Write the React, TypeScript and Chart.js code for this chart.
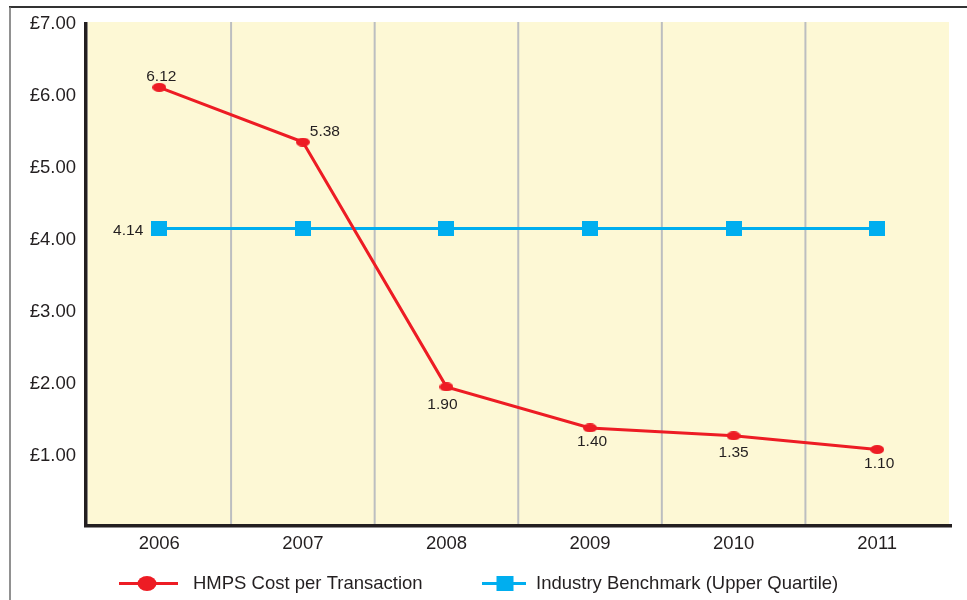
import React, { useEffect, useRef } from 'react';
import { Chart, registerables } from 'chart.js';

Chart.register(...registerables);

// ---- Data ----
const years = ['2006', '2007', '2008', '2009', '2010', '2011'];
const hmpsCost = [6.12, 5.36, 1.96, 1.39, 1.28, 1.09];
const hmpsLabels = ['6.12', '5.38', '1.90', '1.40', '1.35', '1.10'];
const benchmark = [4.16, 4.16, 4.16, 4.16, 4.16, 4.16];
const benchmarkLabels = ['4.14', '', '', '', '', ''];
const yTickValues = [1, 2, 3, 4, 5, 6, 7];
const seriesNames = ['HMPS Cost per Transaction', 'Industry Benchmark (Upper Quartile)'];

// ---- Styles ----
const RED = '#ED1C24';
const BLUE = '#00AEEF';
const BG = '#FDF8D5';
const GRID = '#BCBEC0';
const TEXT = '#231F20';
const FONT = '"Liberation Sans", Arial, Helvetica, sans-serif';

// label offsets (dx, dy, align) for each data label
const hmpsLabelOffsets: [number, number, CanvasTextAlign][] = [
  [2, -11, 'center'],
  [22, -10, 'center'],
  [-4, 18, 'center'],
  [2, 14, 'center'],
  [0, 17, 'center'],
  [2, 14, 'center'],
];
const benchLabelOffsets: [number, number, CanvasTextAlign][] = [
  [-16, 2, 'right'],
  [0, 0, 'center'],
  [0, 0, 'center'],
  [0, 0, 'center'],
  [0, 0, 'center'],
  [0, 0, 'center'],
];

function makeEllipse(w: number, h: number, color: string): HTMLCanvasElement {
  const c = document.createElement('canvas');
  c.width = w;
  c.height = h;
  const ctx = c.getContext('2d')!;
  ctx.fillStyle = color;
  ctx.beginPath();
  ctx.ellipse(w / 2, h / 2, w / 2, h / 2, 0, 0, Math.PI * 2);
  ctx.fill();
  return c;
}

function makeRect(w: number, h: number, color: string): HTMLCanvasElement {
  const c = document.createElement('canvas');
  c.width = w;
  c.height = h;
  const ctx = c.getContext('2d')!;
  ctx.fillStyle = color;
  ctx.fillRect(0, 0, w, h);
  return c;
}

export default function App() {
  const ref = useRef<HTMLCanvasElement | null>(null);

  useEffect(() => {
    if (!ref.current) return;
    const redPoint = makeEllipse(14, 9, RED);
    const bluePoint = makeRect(16, 15, BLUE);

    const decor = {
      id: 'decor',
      beforeDraw(chart: any) {
        const ctx = chart.ctx;
        const ca = chart.chartArea;
        const xs = chart.scales.x;
        ctx.save();
        ctx.fillStyle = '#ffffff';
        ctx.fillRect(0, 0, chart.width, chart.height);
        // outer frame
        ctx.strokeStyle = '#333333';
        ctx.lineWidth = 2;
        ctx.beginPath();
        ctx.moveTo(9, 7);
        ctx.lineTo(chart.width, 7);
        ctx.stroke();
        ctx.strokeStyle = '#6d6d6d';
        ctx.lineWidth = 1.5;
        ctx.beginPath();
        ctx.moveTo(10, 7);
        ctx.lineTo(10, chart.height);
        ctx.stroke();
        // plot background
        ctx.fillStyle = BG;
        ctx.fillRect(ca.left, 22, ca.right - ca.left, 525 - 22);
        // vertical grid at category boundaries
        ctx.strokeStyle = GRID;
        ctx.lineWidth = 2;
        for (let i = 0; i < years.length - 1; i++) {
          const x = (xs.getPixelForValue(i) + xs.getPixelForValue(i + 1)) / 2;
          ctx.beginPath();
          ctx.moveTo(x, 22);
          ctx.lineTo(x, 525);
          ctx.stroke();
        }
        ctx.restore();
      },
      beforeDatasetsDraw(chart: any) {
        const ctx = chart.ctx;
        const ca = chart.chartArea;
        ctx.save();
        ctx.fillStyle = TEXT;
        ctx.fillRect(ca.left - 3.5, 22, 3.5, 527 - 22);
        ctx.fillRect(ca.left - 3.5, 524, 952 - (ca.left - 3.5), 3.5);
        ctx.restore();
      },
      afterDraw(chart: any) {
        const ctx = chart.ctx;
        ctx.save();
        // data labels
        ctx.fillStyle = TEXT;
        ctx.font = `15.5px ${FONT}`;
        ctx.textBaseline = 'middle';
        const m0 = chart.getDatasetMeta(0);
        m0.data.forEach((p: any, i: number) => {
          const [dx, dy, al] = hmpsLabelOffsets[i];
          ctx.textAlign = al;
          ctx.fillText(hmpsLabels[i], p.x + dx, p.y + dy);
        });
        const m1 = chart.getDatasetMeta(1);
        m1.data.forEach((p: any, i: number) => {
          if (!benchmarkLabels[i]) return;
          const [dx, dy, al] = benchLabelOffsets[i];
          ctx.textAlign = al;
          ctx.fillText(benchmarkLabels[i], p.x + dx, p.y + dy);
        });
        // legend
        const ly = 583.5;
        ctx.lineWidth = 3;
        ctx.strokeStyle = RED;
        ctx.beginPath();
        ctx.moveTo(119, ly);
        ctx.lineTo(178, ly);
        ctx.stroke();
        ctx.fillStyle = RED;
        ctx.beginPath();
        ctx.ellipse(147, ly, 9.5, 7.5, 0, 0, Math.PI * 2);
        ctx.fill();
        ctx.strokeStyle = BLUE;
        ctx.beginPath();
        ctx.moveTo(482, ly);
        ctx.lineTo(526, ly);
        ctx.stroke();
        ctx.fillStyle = BLUE;
        ctx.fillRect(505 - 8.5, ly - 7.5, 17, 15);
        ctx.fillStyle = TEXT;
        ctx.font = `18.5px ${FONT}`;
        ctx.textAlign = 'left';
        ctx.fillText(seriesNames[0], 193, ly);
        ctx.fillText(seriesNames[1], 536, ly);
        ctx.restore();
      },
    };

    const chart = new Chart(ref.current, {
      type: 'line',
      data: {
        labels: years,
        datasets: [
          {
            label: seriesNames[0],
            data: hmpsCost,
            borderColor: RED,
            backgroundColor: RED,
            borderWidth: 3,
            pointStyle: redPoint as any,
            pointRadius: 7,
            tension: 0,
          },
          {
            label: seriesNames[1],
            data: benchmark,
            borderColor: BLUE,
            backgroundColor: BLUE,
            borderWidth: 3,
            pointStyle: bluePoint as any,
            pointRadius: 8,
            tension: 0,
          },
        ],
      },
      options: {
        responsive: false,
        animation: false,
        layout: { padding: { left: 0, right: 18, top: 24, bottom: 0 } },
        plugins: {
          legend: { display: false },
          tooltip: { enabled: false },
        },
        scales: {
          x: {
            type: 'category',
            offset: true,
            grid: { display: false, drawTicks: false },
            border: { display: false },
            ticks: {
              color: TEXT,
              font: { family: FONT, size: 18.5 },
              padding: 5,
              maxRotation: 0,
            },
            afterFit: (s: any) => {
              s.height = 72;
            },
          },
          y: {
            min: 0,
            max: 7,
            grid: { display: false, drawTicks: false },
            border: { display: false },
            afterBuildTicks: (s: any) => {
              s.ticks = yTickValues.map((v) => ({ value: v }));
            },
            ticks: {
              color: TEXT,
              font: { family: FONT, size: 18.5 },
              padding: 11.5,
              callback: (v: any) => '£' + Number(v).toFixed(2),
            },
            afterFit: (s: any) => {
              s.width = 87.5;
            },
          },
        },
      },
      plugins: [decor],
    } as any);
    return () => chart.destroy();
  }, []);

  return (
    <div style={{ position: 'fixed', left: 0, top: 0, width: 967, height: 600, background: '#fff' }}>
      <canvas ref={ref} width={967} height={600} style={{ width: 967, height: 600, display: 'block' }} />
    </div>
  );
}
